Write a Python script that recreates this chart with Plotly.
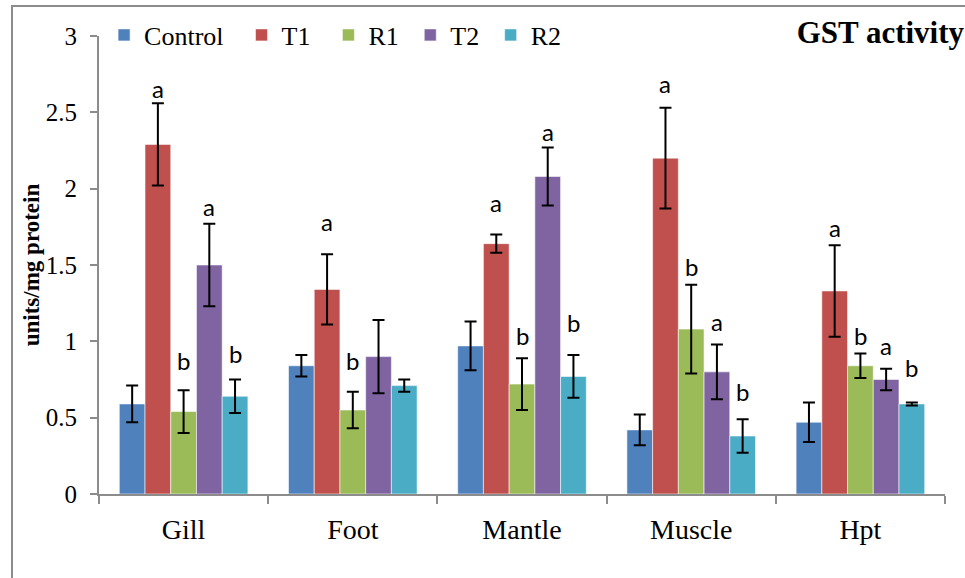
import plotly.graph_objects as go

# Tissues and treatment groups
categories = ["Gill", "Foot", "Mantle", "Muscle", "Hpt"]
series_names = ["Control", "T1", "R1", "T2", "R2"]

# GST activity (units/mg protein), mean and error per tissue
control = [0.59, 0.84, 0.97, 0.42, 0.47]
control_err = [0.12, 0.07, 0.16, 0.10, 0.13]
t1 = [2.29, 1.34, 1.64, 2.20, 1.33]
t1_err = [0.27, 0.23, 0.06, 0.33, 0.30]
r1 = [0.54, 0.55, 0.72, 1.08, 0.84]
r1_err = [0.14, 0.12, 0.17, 0.29, 0.08]
t2 = [1.50, 0.90, 2.08, 0.80, 0.75]
t2_err = [0.27, 0.24, 0.19, 0.18, 0.07]
r2 = [0.64, 0.71, 0.77, 0.38, 0.59]
r2_err = [0.11, 0.04, 0.14, 0.11, 0.01]

# Significance letters above each bar
control_letters = ["", "", "", "", ""]
t1_letters = ["a", "a", "a", "a", "a"]
r1_letters = ["b", "b", "b", "b", "b"]
t2_letters = ["a", "", "a", "a", "a"]
r2_letters = ["b", "", "b", "b", "b"]

means = [control, t1, r1, t2, r2]
errors = [control_err, t1_err, r1_err, t2_err, r2_err]
letters = [control_letters, t1_letters, r1_letters, t2_letters, r2_letters]

colors = ["#4F81BD", "#C0504D", "#9BBB59", "#8064A2", "#4BACC6"]
# vertical pixel lift of each letter above its error bar
letter_lift = [
    [0, 0, 0, 0, 0],
    [15, 33, 32, 24, 18],
    [30, 31, 23, 18, 18],
    [17, 0, 16, 23, 23],
    [26, 0, 33, 28, 35],
]
# extra non-breaking spaces after each legend entry to widen its spacing
legend_pad = [2, 2, 1, 1, 0]

SERIF = "Liberation Serif"
AXIS_GREY = "#8c8c8c"
BARGAP = 0.24

fig = go.Figure()
for name, vals, errs, col, pad in zip(series_names, means, errors, colors, legend_pad):
    fig.add_trace(go.Bar(
        name=name + "\u00a0" * pad, x=categories, y=vals,
        marker=dict(color=col, line=dict(color="rgba(255,255,255,0.55)", width=1)),
        error_y=dict(type="data", array=errs, visible=True,
                     color="black", thickness=2, width=6),
    ))

n = len(series_names)
w = (1 - BARGAP) / n
annotations = []
for si in range(n):
    for ci in range(len(categories)):
        lab = letters[si][ci]
        if not lab:
            continue
        annotations.append(dict(
            x=ci + (si - (n - 1) / 2) * w, y=means[si][ci] + errors[si][ci],
            xref="x", yref="y", text=lab, showarrow=False,
            yanchor="middle", yshift=letter_lift[si][ci],
            font=dict(family="Lato", size=24, color="black"),
        ))

# outer frame line
shapes = [dict(type="rect", xref="paper", yref="paper",
               x0=(12 - 99) / 846, x1=1.2, y0=-0.5, y1=(494 - 5) / 459,
               line=dict(color=AXIS_GREY, width=2), fillcolor="rgba(0,0,0,0)",
               layer="below")]

fig.update_layout(
    width=965, height=578,
    margin=dict(l=99, r=20, t=35, b=84),
    paper_bgcolor="white", plot_bgcolor="white",
    barmode="group", bargap=BARGAP, bargroupgap=0,
    title=dict(text="<b>GST activity</b>", xref="container", yref="container",
               x=0.999, xanchor="right", y=1 - 32 / 578, yanchor="middle",
               font=dict(family=SERIF, size=31, color="black")),
    legend=dict(orientation="h", x=0.006, xanchor="left", y=1.0, yanchor="middle",
                font=dict(family=SERIF, size=26, color="black"),
                bgcolor="rgba(0,0,0,0)", traceorder="normal"),
    xaxis=dict(type="category", tickson="boundaries", ticks="outside", ticklen=8,
               tickcolor=AXIS_GREY, tickwidth=2, showline=True, linecolor=AXIS_GREY,
               linewidth=2, showgrid=False, ticklabelstandoff=9,
               tickfont=dict(family=SERIF, size=28, color="black")),
    yaxis=dict(range=[0, 3], dtick=0.5, ticks="outside", ticklen=7,
               tickcolor=AXIS_GREY, tickwidth=2, showline=True, linecolor=AXIS_GREY,
               linewidth=2, showgrid=False, zeroline=False, ticklabelstandoff=8,
               tickfont=dict(family=SERIF, size=25, color="black"),
               title=dict(text="<b>units/mg protein</b>", standoff=0,
                          font=dict(family=SERIF, size=23, color="black"))),
    annotations=annotations,
    shapes=shapes,
)

fig.write_html("out.html")
